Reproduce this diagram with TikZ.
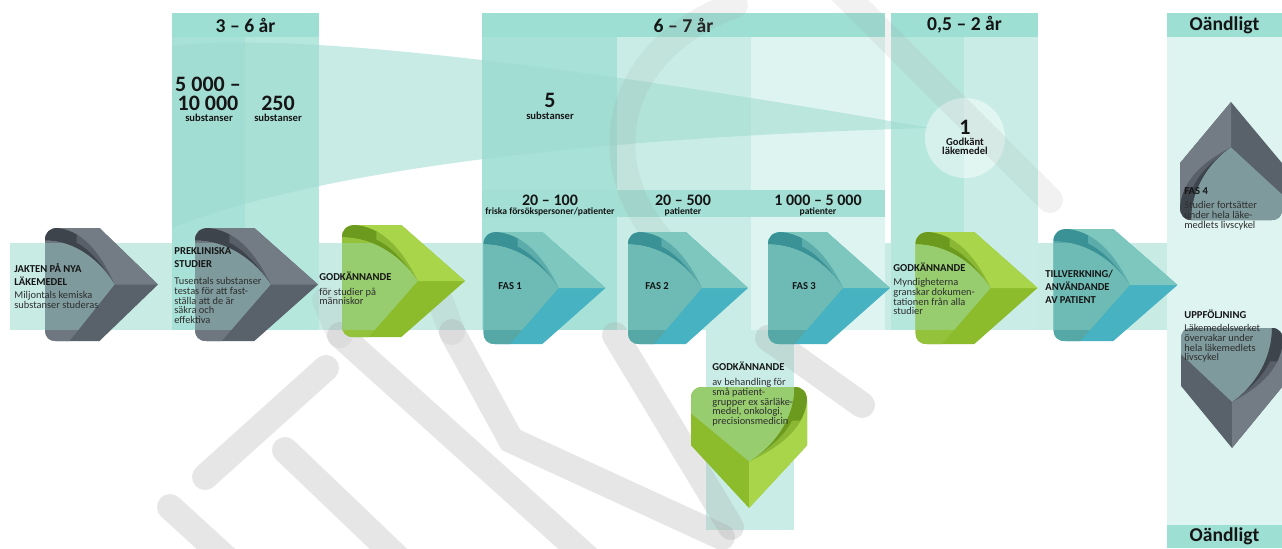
\documentclass[tikz,border=0pt]{standalone}
\usepackage{fontspec}
\setmainfont{Carlito}
\definecolor{hdrc}{HTML}{9DDFD3}
\definecolor{colA}{HTML}{A8E1D7}
\definecolor{colB}{HTML}{B6E7DD}
\definecolor{colC}{HTML}{C9EDE6}
\definecolor{colD}{HTML}{DEF4F0}
\definecolor{bandc}{HTML}{C8EBE4}
\definecolor{subhdr}{HTML}{A3DFD4}
\definecolor{wedgec}{HTML}{9EDBD0}
\definecolor{tintc}{HTML}{9DDFD3}
\definecolor{txt}{HTML}{151515}
\definecolor{bodyt}{HTML}{2E2E2E}
\definecolor{grayL}{HTML}{737B85}
\definecolor{grayD}{HTML}{59616B}
\definecolor{grayC}{HTML}{3D444C}
\definecolor{grayF}{HTML}{6E7680}
\definecolor{greenL}{HTML}{A9D54B}
\definecolor{greenD}{HTML}{8CBB2B}
\definecolor{greenC}{HTML}{6B9A1E}
\definecolor{greenF}{HTML}{94C23A}
\definecolor{tealL}{HTML}{7DC7BE}
\definecolor{tealD}{HTML}{46B2C2}
\definecolor{tealC}{HTML}{3A9296}
\definecolor{tealF}{HTML}{55A8A5}
\newcommand{\mychev}[7]{%
\pgfmathsetmacro\tbt{(243-#2)/#4*113}%
\pgfmathsetmacro\tbb{(330-#2)/#4*113}%
\begin{scope}[shift={(#1,#2)},rotate=#5,xscale=#3/113,yscale=#4/113]
\fill[#6D] (-56.5,-44) .. controls (-56.5,-52) and (-52,-56.5) .. (-43.5,-56.5) -- (-2,-56.5) -- (56.5,0) -- (-2,56.5) -- (-46,56.5) .. controls (-53,56.5) and (-56.5,52) .. (-56.5,45) -- cycle;
\fill[#6L] (-56.5,-44) .. controls (-56.5,-52) and (-52,-56.5) .. (-43.5,-56.5) -- (-2,-56.5) -- (56.5,0) -- (-56.5,0) -- cycle;
\fill[#6C] (-56.5,-44) .. controls (-56.5,-52) and (-52,-56.5) .. (-43.5,-56.5) .. controls (-15,-53) and (2,-25) .. (13,0) .. controls (0,-22) and (-25,-44) .. (-56.5,-44) -- cycle;
\fill[#6L,opacity=.5] (-25,-50) .. controls (-8,-42) and (4,-22) .. (13,0) .. controls (2,-18) and (-10,-34) .. (-25,-42) -- cycle;
\fill[#6F] (-56.5,-44) .. controls (-25,-44) and (0,-22) .. (13,0) -- (-32,56.5) -- (-46,56.5) .. controls (-53,56.5) and (-56.5,52) .. (-56.5,45) -- cycle;
\begin{scope}
\clip (-56.5,-44) .. controls (-25,-44) and (0,-22) .. (13,0) -- (-32,56.5) -- (-46,56.5) .. controls (-53,56.5) and (-56.5,52) .. (-56.5,45) -- cycle;
\ifnum#7=1 \fill[tintc,opacity=.35] (-60,\tbt) rectangle (60,\tbb);\else \fill[tintc,opacity=.35] (-60,-60) rectangle (60,60);\fi
\end{scope}
\end{scope}}
\tikzset{
 hdrbox/.style={fill=hdrc,inner sep=0pt,text=txt,font=\fontsize{9.8}{10}\selectfont\bfseries},
 bignum/.style={inner sep=0pt,text=txt,font=\fontsize{11}{12}\selectfont\bfseries},
 midnum/.style={inner sep=0pt,text=txt,font=\fontsize{8}{9}\selectfont\bfseries},
 smalllab/.style={inner sep=0pt,text=txt,font=\fontsize{5.3}{6}\selectfont\bfseries},
 tinylab/.style={inner sep=0pt,text=txt,font=\fontsize{4.8}{5.5}\selectfont\bfseries},
 hd/.style={inner sep=0pt,anchor=north west,align=left,text=txt,font=\fontsize{5.3}{6.6}\selectfont\bfseries},
 bd/.style={inner sep=0pt,anchor=north west,align=left,text=bodyt,font=\fontsize{5.2}{4.8}\selectfont},
 wm/.style={draw=black!35,line width=13pt,line cap=round,opacity=.27},
 wmf/.style={draw=black!40,line width=13pt,line cap=round,opacity=.13}
}
\begin{document}
\begin{tikzpicture}[x=0.5pt,y=-0.5pt]
\useasboundingbox (0,0) rectangle (1282,548);
\fill[white] (0,0) rectangle (1282,548);
% band
\fill[bandc] (10,243) rectangle (1177,330);
% columns 3-6
\fill[colA] (172,37) rectangle (245,330);
\fill[colB] (245,37) rectangle (319,330);
% columns 6-7
\fill[colA] (482,37) rectangle (617,330);
\fill[colC] (617,37) rectangle (751,330);
\fill[colD] (751,37) rectangle (885,330);
% columns 0,5-2
\fill[colB] (891,37) rectangle (964,330);
\fill[colC] (964,37) rectangle (1038,330);
% Oandligt column
\fill[colD] (1167,37) rectangle (1282,525);
% lower column
\fill[colC] (706,330) rectangle (794,530);
% headers
\node[hdrbox,minimum width=73.5pt,minimum height=12pt] (h1) at (245.5,25) {3 – 6 år};
\node[hdrbox,minimum width=201.5pt,minimum height=12pt] (h2) at (683.5,25) {6 – 7 år};
\node[hdrbox,minimum width=73.5pt,minimum height=12pt] (h3) at (964.5,25) {0,5 – 2 år};
\node[hdrbox,minimum width=57.5pt,minimum height=12pt] (h4) at (1224.5,25) {Oändligt};
\node[hdrbox,minimum width=57.5pt,minimum height=11.5pt] (h5) at (1224.5,536.5) {Oändligt};
% funnel wedge
\fill[wedgec,opacity=.55] (172,46) .. controls (300,30) and (600,70) .. (930,128) .. controls (500,140) and (280,185) .. (172,228) -- cycle;
% sub header
\fill[subhdr] (482,190) rectangle (885,217);
% circle
\node[circle,fill=white,fill opacity=.45,minimum size=40pt,inner sep=0pt] (circ) at (965,138) {};
% watermark
\draw[wm] (205,477) -- (326,368);
\draw[wm] (285,450) -- (400,560);
\draw[wm] (170,507) -- (228,560);
\draw[wm] (340,335) -- (590,560);
\draw[wm] (452,332) -- (511,440) -- (722,537);
\draw[wm] (615,335) -- (731,527);
\draw[wm] (768,338) -- (862,405);
\draw[wmf] (325,300) -- (340,335);
\draw[wmf] (440,300) -- (452,332);
\draw[wmf] (840,-10) -- (1050,200);
\draw[wmf] (735,5) .. controls (610,50) and (590,170) .. (670,250);
% chevrons
\mychev{101.5}{284.5}{113}{113}{0}{gray}{1}
\mychev{256.5}{284.5}{123}{113}{0}{gray}{1}
\mychev{403.5}{281}{123}{112}{0}{green}{1}
\mychev{544.5}{288}{122}{112}{0}{teal}{1}
\mychev{688}{288}{120}{112}{0}{teal}{1}
\mychev{829}{288}{122}{112}{0}{teal}{1}
\mychev{976.5}{288}{122}{112}{0}{green}{1}
\mychev{1115.5}{285}{124}{112}{0}{teal}{1}
\mychev{1231}{161}{118}{102}{90}{gray}{2}
\mychev{1232}{388}{120}{102}{-90}{gray}{2}
\mychev{749}{447.5}{121}{116}{-90}{green}{2}
% numbers
\node[bignum] (n1a) at (208,84) {5 000 –};
\node[bignum] (n1b) at (208,103) {10 000};
\node[smalllab] (n1c) at (209,118) {substanser};
\node[bignum] (n2a) at (278,103) {250};
\node[smalllab] (n2c) at (278,118) {substanser};
\node[bignum] (n3a) at (550,100) {5};
\node[smalllab] (n3c) at (550,116) {substanser};
\node[bignum] (n4a) at (965,127) {1};
\node[smalllab] (n4b) at (965,142) {Godkänt};
\node[smalllab] (n4c) at (965,151) {läkemedel};
\node[midnum] (p1a) at (550,200) {20 – 100};
\node[tinylab] (p1b) at (550,212) {friska försökspersoner/patienter};
\node[midnum] (p2a) at (683,200) {20 – 500};
\node[tinylab] (p2b) at (683,212) {patienter};
\node[midnum] (p3a) at (818,200) {1 000 – 5 000};
\node[tinylab] (p3b) at (818,212) {patienter};
% chevron texts
\node[hd] (t1h) at (14,263.2) {JAKTEN PÅ NYA\\LÄKEMEDEL};
\node[bd] (t1b) at (14,291.3) {Miljontals kemiska\\substanser studeras};
\node[hd] (t2h) at (174,247.2) {PREKLINISKA\\STUDIER};
\node[bd] (t2b) at (174,277.3) {Tusentals substanser\\testas för att fast-\\ställa att de är\\säkra och\\effektiva};
\node[hd] (t3h) at (319,271.2) {GODKÄNNANDE};
\node[bd] (t3b) at (319,287.3) {för studier på\\människor};
\node[hd] (f1) at (498,282.2) {FAS 1};
\node[hd] (f2) at (645,282.2) {FAS 2};
\node[hd] (f3) at (792,282.2) {FAS 3};
\node[hd] (t4h) at (893,262.2) {GODKÄNNANDE};
\node[bd] (t4b) at (893,278.3) {Myndigheterna\\granskar dokumen-\\tationen från alla\\studier};
\node[hd] (t5h) at (1045,269.2) {TILLVERKNING/\\ANVÄNDANDE\\AV PATIENT};
\node[hd] (t6h) at (1184,187.2) {FAS 4};
\node[bd] (t6b) at (1184,201.3) {Studier fortsätter\\under hela läke-\\medlets livscykel};
\node[hd] (t7h) at (1184,309.2) {UPPFÖLJNING};
\node[bd] (t7b) at (1184,324.3) {Läkemedelsverket\\övervakar under\\hela läkemedlets\\livscykel};
\node[hd] (t8h) at (712,361.2) {GODKÄNNANDE};
\node[bd] (t8b) at (712,378.3) {av behandling för\\små patient-\\grupper ex särläke-\\medel, onkologi,\\precisionsmedicin};
\end{tikzpicture}
\end{document}
